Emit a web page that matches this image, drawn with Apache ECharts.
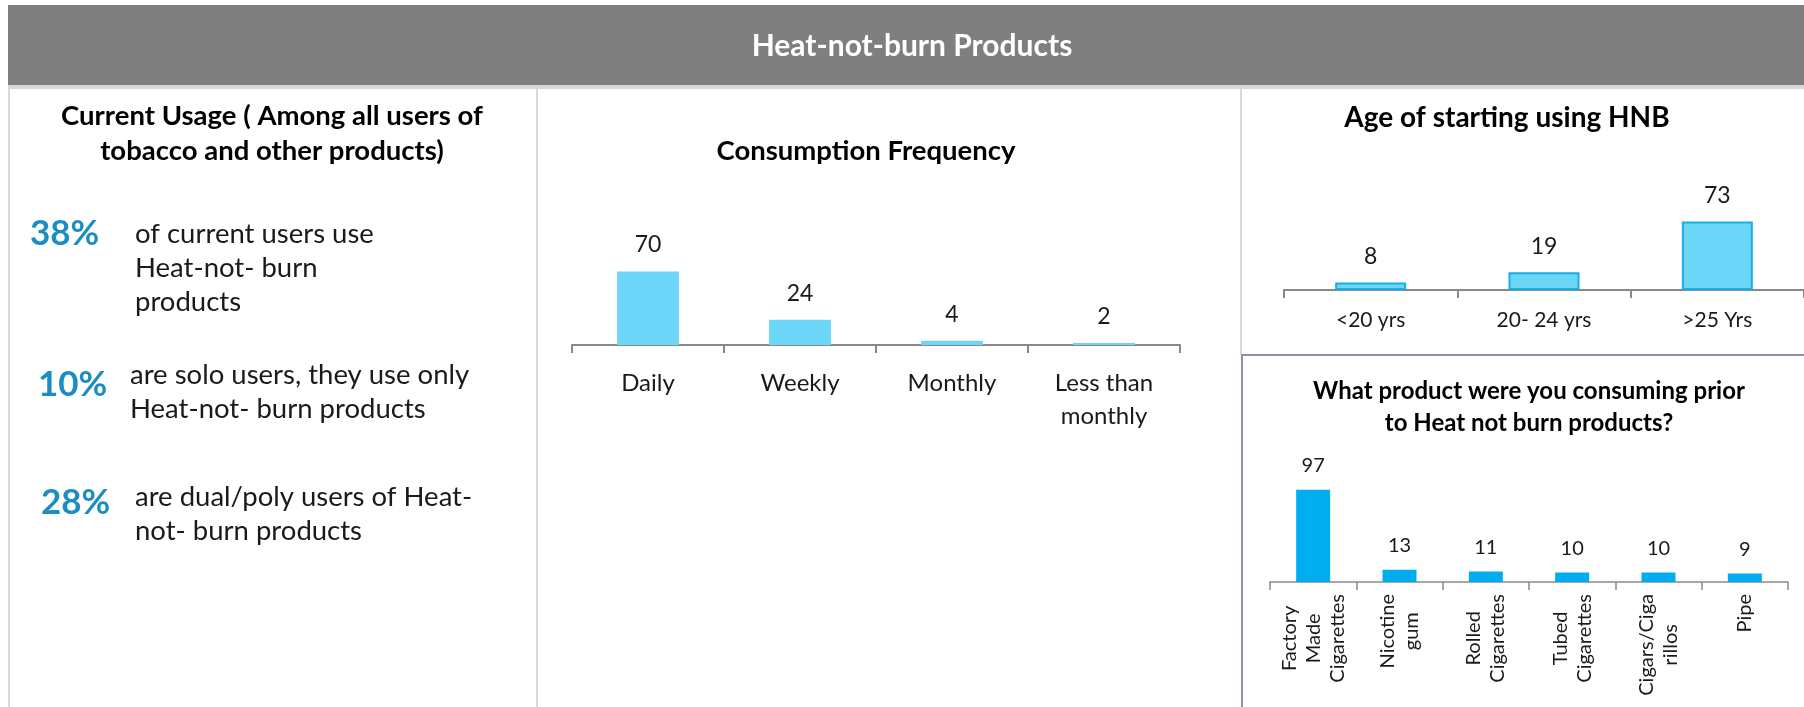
<!DOCTYPE html>
<html>
<head>
<meta charset="utf-8">
<script src="https://cdn.jsdelivr.net/npm/echarts@6/dist/echarts.min.js"></script>
<style>
  html, body { margin: 0; padding: 0; background: #fff; }
  #main { width: 1804px; height: 707px; }
</style>
</head>
<body>
<div id="main"></div>
<script>
// chart data
const freqCategories = ['Daily', 'Weekly', 'Monthly', 'Less than\nmonthly'];
const freqValues = [70, 24, 4, 2];

const ageCategories = ['<20 yrs', '20- 24 yrs', '>25 Yrs'];
const ageValues = [8, 19, 73];

const priorCategories = ['Factory\nMade\nCigarettes', 'Nicotine\ngum', 'Rolled\nCigarettes', 'Tubed\nCigarettes', 'Cigars/Ciga\nrillos', 'Pipe'];
const priorValues = [97, 13, 11, 10, 10, 9];

const usagePercents = ['38%', '10%', '28%'];
const usageTexts = [
    ['of current users use', 'Heat-not- burn', 'products'],
    ['are solo users, they use only', 'Heat-not- burn products'],
    ['are dual/poly users of Heat-', 'not- burn products']
];

const FONT = 'Lato, "Open Sans", sans-serif';
const TXT = '#1a1a1a';

const chart = echarts.init(document.getElementById('main'));

// left panel text blocks
const pctPos = [[30, 234], [38, 385], [41, 503]];
const txtPos = [[135, 234], [130, 375], [135, 497]];
const lineGap = 34;

const title = (x, y, text, size, color) => ({
    type: 'text', x: x, y: y,
    style: { text: text, fill: color || '#000', font: 'bold ' + size + 'px ' + FONT, align: 'center', verticalAlign: 'middle' }
});

let graphics = [
    { type: 'rect', shape: { x: 8, y: 5, width: 1796, height: 80 }, style: { fill: '#7f7f7f' } },
    { type: 'rect', shape: { x: 8, y: 85, width: 1796, height: 4 }, style: { fill: '#d9d9d9' } },
    { type: 'rect', shape: { x: 8, y: 89, width: 2, height: 618 }, style: { fill: '#d9d9d9' } },
    { type: 'rect', shape: { x: 536, y: 89, width: 2, height: 618 }, style: { fill: '#d9d9d9' } },
    { type: 'rect', shape: { x: 1240, y: 89, width: 2, height: 266 }, style: { fill: '#d9d9d9' } },
    { type: 'polyline', shape: { points: [[1242, 707], [1242, 355], [1804, 355]] },
      style: { stroke: '#8b95a1', lineWidth: 2, fill: null } },
    title(912, 46, 'Heat-not-burn Products', 30, '#fff'),
    title(272, 116, 'Current Usage ( Among all users of', 27.5),
    title(272, 151, 'tobacco and other products)', 27.5),
    title(866, 151, 'Consumption Frequency', 27.5),
    title(1507, 118, 'Age of starting using HNB', 28),
    title(1529, 391, 'What product were you consuming prior', 24),
    title(1529, 423, 'to Heat not burn products?', 24)
];

usagePercents.forEach((p, i) => {
    graphics.push({ type: 'text', x: pctPos[i][0], y: pctPos[i][1],
        style: { text: p, fill: '#1b8dc2', font: 'bold 35px ' + FONT, verticalAlign: 'middle' } });
    usageTexts[i].forEach((line, j) => {
        graphics.push({ type: 'text', x: txtPos[i][0], y: txtPos[i][1] + j * lineGap,
            style: { text: line, fill: TXT, font: '27.5px ' + FONT, verticalAlign: 'middle' } });
    });
});

const axisLineStyle = { color: '#898989', width: 2 };

let option = {
    animation: false,
    backgroundColor: '#fff',
    textStyle: { fontFamily: FONT },
    graphic: graphics,
    grid: [
        { left: 572, top: 240, width: 608, height: 105 },
        { left: 1284, top: 196, width: 522, height: 94 },
        { left: 1270, top: 487, width: 518, height: 95 }
    ],
    xAxis: [
        {
            gridIndex: 0, type: 'category', data: freqCategories,
            axisLine: { lineStyle: axisLineStyle },
            axisTick: { show: true, length: 8, lineStyle: axisLineStyle },
            axisLabel: { color: TXT, fontSize: 24, lineHeight: 33, margin: 22, interval: 0 }
        },
        {
            gridIndex: 1, type: 'category', data: ageCategories,
            axisLine: { lineStyle: axisLineStyle },
            axisTick: { show: true, length: 8, lineStyle: axisLineStyle },
            axisLabel: { color: TXT, fontSize: 21, margin: 20, interval: 0 }
        },
        {
            gridIndex: 2, type: 'category', data: priorCategories,
            axisLine: { lineStyle: { color: '#898989', width: 1.5 } },
            axisTick: { show: true, length: 8, lineStyle: { color: '#898989', width: 1.5 } },
            axisLabel: {
                color: TXT, rotate: 90, margin: 12, interval: 0,
                formatter: v => v.split('\n').map(l => '{c|' + l + '}').join('\n'),
                rich: { c: { align: 'center', fontSize: 20, lineHeight: 24, color: TXT, fontFamily: FONT } }
            }
        }
    ],
    yAxis: [
        { gridIndex: 0, type: 'value', min: 0, max: 100, show: false },
        { gridIndex: 1, type: 'value', min: 0, max: 100, show: false },
        { gridIndex: 2, type: 'value', min: 0, max: 100, show: false }
    ],
    series: [
        {
            type: 'bar', xAxisIndex: 0, yAxisIndex: 0, data: freqValues, barWidth: 62,
            itemStyle: { color: '#6bd6f7' },
            label: { show: true, position: 'top', distance: 15, color: TXT, fontSize: 23, fontFamily: FONT }
        },
        {
            type: 'bar', xAxisIndex: 1, yAxisIndex: 1, data: ageValues, barWidth: 71,
            itemStyle: { color: '#6bd6f7', borderColor: '#1aaee8', borderWidth: 2 },
            label: { show: true, position: 'top', distance: 14, color: TXT, fontSize: 23, fontFamily: FONT }
        },
        {
            type: 'bar', xAxisIndex: 2, yAxisIndex: 2, data: priorValues, barWidth: 34,
            itemStyle: { color: '#00aeef' },
            label: { show: true, position: 'top', distance: 14, color: TXT, fontSize: 20, fontFamily: FONT }
        }
    ]
};

chart.setOption(option);
</script>
</body>
</html>
